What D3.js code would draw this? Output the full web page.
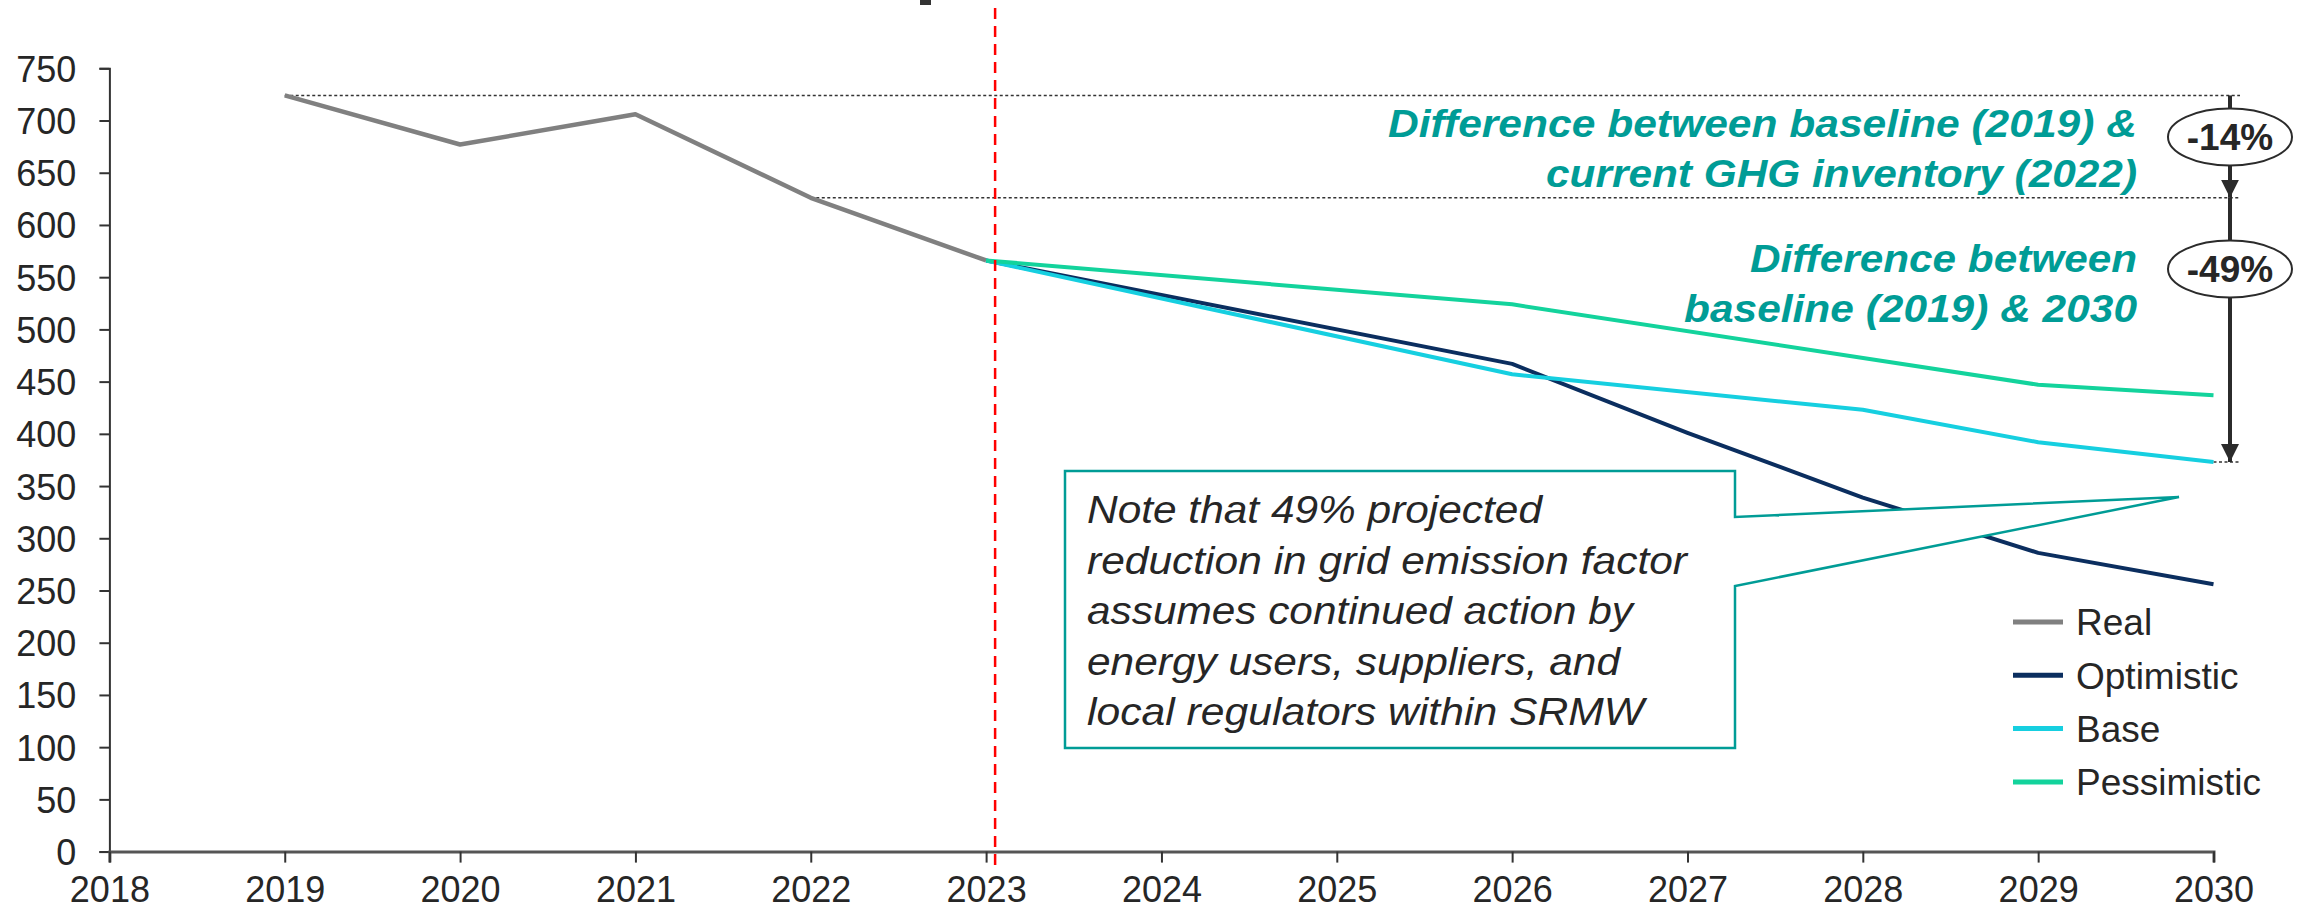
<!DOCTYPE html>
<html>
<head>
<meta charset="utf-8">
<script src="https://cdn.jsdelivr.net/npm/d3@7"></script>
<style>
  body { margin: 0; background: #fff; }
  svg { display: block; font-family: "Liberation Sans", Arial, sans-serif; }
</style>
</head>
<body>
<div id="chart"></div>
<script>
/* jshint esversion: 6 */

// chart data
var xTicks = [2018, 2019, 2020, 2021, 2022, 2023, 2024, 2025, 2026, 2027, 2028, 2029, 2030];
var yTicks = [0, 50, 100, 150, 200, 250, 300, 350, 400, 450, 500, 550, 600, 650, 700, 750];

var realYears = [2019, 2020, 2021, 2022, 2023];
var realValues = [724, 677, 706, 626, 566];

var optimisticYears = [2023, 2026, 2027, 2028, 2029, 2030];
var optimisticValues = [566, 467, 401, 339, 286, 256];

var baseYears = [2023, 2026, 2028, 2029, 2030];
var baseValues = [566, 457, 423, 392, 373];

var pessimisticYears = [2023, 2026, 2029, 2030];
var pessimisticValues = [566, 524, 447, 437];

var seriesNames = ["Real", "Optimistic", "Base", "Pessimistic"];
var seriesColors = ["#808080", "#0b2e5f", "#16cfe0", "#13d39c"];

// reference values for the difference arrows
var baselineValue = 724;   // 2019
var inventoryValue = 626;  // 2022
var base2030Value = 373;
var diffLabels = ["-14%", "-49%"];

var annot1 = ["Difference between baseline (2019) &", "current GHG inventory (2022)"];
var annot2 = ["Difference between", "baseline (2019) & 2030"];
var noteLines = [
	"Note that 49% projected",
	"reduction in grid emission factor",
	"assumes continued action by",
	"energy users, suppliers, and",
	"local regulators within SRMW"
];

var W = 2315, H = 911;
var TEAL = "#009c96";
var TEXT = "#262626";

var svg = d3.select("#chart").append("svg")
	.attr("width", W)
	.attr("height", H);

var x = d3.scaleLinear().domain([2018, 2030]).range([109.4, 2213.5]);
var y = d3.scaleLinear().domain([0, 750]).range([851.6, 68.3]);

// small piece of a cut off title at the top edge
svg.append("rect")
	.attr("x", 920).attr("y", 0)
	.attr("width", 11).attr("height", 5)
	.style("fill", "#333");

// y axis
var yAxis = d3.axisLeft(y).tickValues(yTicks).tickSize(10).tickPadding(22);
var gy = svg.append("g").attr("transform", "translate(" + x(2018) + ",0)").call(yAxis);
gy.select(".domain").style("stroke", "#333").style("stroke-width", 2);
gy.selectAll(".tick line").style("stroke", "#333").style("stroke-width", 2);
gy.selectAll(".tick text")
	.style("font-size", "36px")
	.style("fill", TEXT)
	.attr("dy", "0.36em")
	.attr("x", -33);

// x axis
var xAxis = d3.axisBottom(x).tickValues(xTicks).tickFormat(d3.format("d")).tickSize(11).tickPadding(14);
var gx = svg.append("g").attr("transform", "translate(0," + y(0) + ")").call(xAxis);
gx.select(".domain").style("stroke", "#555").style("stroke-width", 3);
gx.selectAll(".tick line").style("stroke", "#333").style("stroke-width", 2);
gx.selectAll(".tick text")
	.style("font-size", "36px")
	.style("fill", TEXT);

// dotted reference lines
var arrowX = x(2030) + 16.5;
var dotted = [
	[x(2019), baselineValue],
	[x(2022), inventoryValue],
	[x(2030), base2030Value]
];
dotted.forEach(function (d) {
	svg.append("line")
		.attr("x1", d[0]).attr("x2", arrowX + 10)
		.attr("y1", y(d[1])).attr("y2", y(d[1]))
		.style("stroke", "#333")
		.style("stroke-width", 1.5)
		.style("stroke-dasharray", "3,2.5");
});

// series lines
var line = d3.line()
	.x(function (d) { return x(d[0]); })
	.y(function (d) { return y(d[1]); });

var series = [
	d3.zip(realYears, realValues),
	d3.zip(optimisticYears, optimisticValues),
	d3.zip(baseYears, baseValues),
	d3.zip(pessimisticYears, pessimisticValues)
];

series.forEach(function (s, i) {
	svg.append("path")
		.datum(s)
		.attr("d", line)
		.style("fill", "none")
		.style("stroke", seriesColors[i])
		.style("stroke-width", i === 0 ? 4.5 : 4)
		.style("stroke-linejoin", "round");
});

// red dashed 2023 marker
svg.append("line")
	.attr("x1", x(2023) + 9).attr("x2", x(2023) + 9)
	.attr("y1", 8).attr("y2", 872)
	.style("stroke", "#ff0000")
	.style("stroke-width", 2.5)
	.style("stroke-dasharray", "11,7");

// callout box with its pointer, filled white so it hides the lines behind
var bx0 = 1065, bx1 = 1735, by0 = 471, by1 = 748;
var tipX = 2179, tipY = 497;
var callout = d3.path();
callout.moveTo(bx0, by0);
callout.lineTo(bx1, by0);
callout.lineTo(bx1, 517);
callout.lineTo(tipX, tipY);
callout.lineTo(bx1, 586);
callout.lineTo(bx1, by1);
callout.lineTo(bx0, by1);
callout.closePath();
svg.append("path")
	.attr("d", callout.toString())
	.style("fill", "#fff")
	.style("stroke", TEAL)
	.style("stroke-width", 2.5)
	.style("stroke-linejoin", "miter");

// note text, widths fitted to the picture
var noteWidths = [455, 600, 546, 533, 557];
svg.append("g").selectAll("text")
	.data(noteLines)
	.enter().append("text")
	.attr("x", bx0 + 22)
	.attr("y", function (d, i) { return 523 + i * 50.5; })
	.attr("textLength", function (d, i) { return noteWidths[i]; })
	.attr("lengthAdjust", "spacingAndGlyphs")
	.style("font-size", "38px")
	.style("font-style", "italic")
	.style("fill", TEXT)
	.text(function (d) { return d; });

// difference arrows
var arrowColor = "#2b2b2b";
svg.append("defs").append("marker")
	.attr("id", "head")
	.attr("viewBox", "0 0 10 10")
	.attr("refX", 10).attr("refY", 5)
	.attr("markerWidth", 4.5).attr("markerHeight", 4.5)
	.attr("markerUnits", "strokeWidth")
	.attr("orient", "auto")
	.append("path")
	.attr("d", "M0,0L10,5L0,10Z")
	.style("fill", arrowColor);

svg.append("line")
	.attr("x1", arrowX).attr("x2", arrowX)
	.attr("y1", y(baselineValue)).attr("y2", y(inventoryValue))
	.style("stroke", arrowColor)
	.style("stroke-width", 4)
	.attr("marker-end", "url(#head)");

svg.append("line")
	.attr("x1", arrowX).attr("x2", arrowX)
	.attr("y1", y(inventoryValue)).attr("y2", y(base2030Value))
	.style("stroke", arrowColor)
	.style("stroke-width", 4)
	.attr("marker-end", "url(#head)");

var bubbleY = [137, 269];
bubbleY.forEach(function (cy, i) {
	svg.append("ellipse")
		.attr("cx", arrowX).attr("cy", cy)
		.attr("rx", 62).attr("ry", 28.5)
		.style("fill", "#fff")
		.style("stroke", arrowColor)
		.style("stroke-width", 2);
	svg.append("text")
		.attr("x", arrowX).attr("y", cy)
		.attr("dy", "0.36em")
		.attr("text-anchor", "middle")
		.style("font-size", "37px")
		.style("font-weight", "bold")
		.style("fill", TEXT)
		.text(diffLabels[i]);
});

// teal annotation texts, widths fitted to the picture
function annot(lines, widths, baseY) {
	svg.append("g").selectAll("text")
		.data(lines)
		.enter().append("text")
		.attr("x", 2137)
		.attr("y", function (d, i) { return baseY + i * 50; })
		.attr("text-anchor", "end")
		.attr("textLength", function (d, i) { return widths[i]; })
		.attr("lengthAdjust", "spacingAndGlyphs")
		.style("font-size", "39px")
		.style("font-weight", "bold")
		.style("font-style", "italic")
		.style("fill", TEAL)
		.text(function (d) { return d; });
}
annot(annot1, [749, 591], 137);
annot(annot2, [387, 453], 272);

// legend
var legend = svg.append("g").selectAll("g")
	.data(seriesNames)
	.enter().append("g")
	.attr("transform", function (d, i) { return "translate(2013," + (622 + i * 53.3) + ")"; });

legend.append("line")
	.attr("x1", 0).attr("x2", 50)
	.style("stroke", function (d, i) { return seriesColors[i]; })
	.style("stroke-width", 5);

legend.append("text")
	.attr("x", 63)
	.attr("dy", "0.36em")
	.style("font-size", "37px")
	.style("fill", TEXT)
	.text(function (d) { return d; });
</script>
</body>
</html>
